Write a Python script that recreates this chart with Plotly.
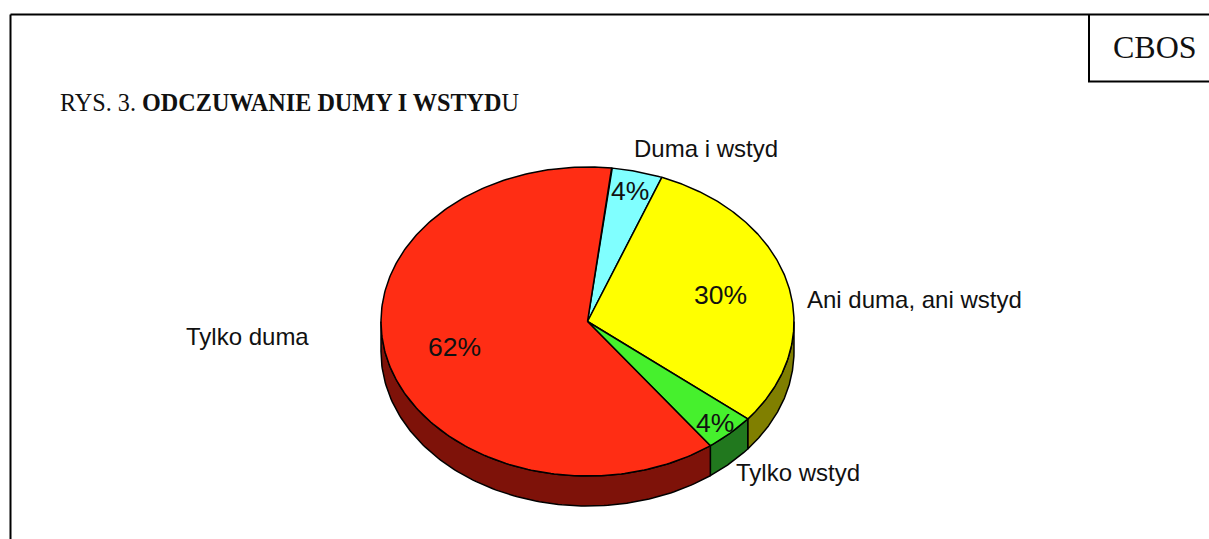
import numpy as np
import plotly.graph_objects as go

categories = ["Duma i wstyd", "Ani duma, ani wstyd", "Tylko wstyd", "Tylko duma"]
values = [4, 30, 4, 62]
top_colors = ["#80FFFF", "#FFFF00", "#46F02D", "#FF2D14"]
side_colors = ["#408080", "#807F00", "#21781E", "#7E1209"]

# pie geometry on a pixel-sized axis
CX, CY, RX, RY, DEPTH = 587.5, 321.5, 206.5, 154.5, 30
START_ANGLE = 6.7
W, H = 1209, 539

label_pos = [(705.5, 148), (914.5, 299), (798, 472), (247.5, 336)]
pct_pos = [(630, 191), (720, 295), (715, 423), (454, 347)]


def ell(t, dy=0.0):
    r = np.radians(t)
    return CX + RX * np.sin(r), CY - RY * np.cos(r) + dy


fig = go.Figure()
edges = START_ANGLE + np.cumsum([0] + values) * 3.6
common = dict(mode="lines", fill="toself", hoverinfo="skip", showlegend=False,
              line=dict(color="black", width=1.5))

# visible side wall: the front half of the ellipse, 90..270 degrees
for i, cat in enumerate(categories):
    a, b = max(edges[i], 90), min(edges[i + 1], 270)
    if b <= a:
        continue
    t = np.linspace(a, b, 120)
    x1, y1 = ell(t)
    x2, y2 = ell(t[::-1], DEPTH)
    fig.add_trace(go.Scatter(x=np.r_[x1, x2, x1[0]], y=np.r_[y1, y2, y1[0]],
                             fillcolor=side_colors[i], name=cat + " side", **common))

# top face
for i, cat in enumerate(categories):
    t = np.linspace(edges[i], edges[i + 1], 240)
    x, y = ell(t)
    fig.add_trace(go.Scatter(x=np.r_[CX, x, CX], y=np.r_[CY, y, CY],
                             fillcolor=top_colors[i], name=cat, **common))

SANS = "Liberation Sans, Arial, sans-serif"
SERIF = "Liberation Serif, Times New Roman, serif"


def note(x, y, text, size, family=SANS, anchor="center"):
    fig.add_annotation(x=x, y=y, xref="x", yref="y", text=text, showarrow=False,
                       xanchor=anchor, yanchor="middle",
                       font=dict(family=family, size=size, color="#111111"))


for i, cat in enumerate(categories):
    note(*label_pos[i], cat, 24)
    note(*pct_pos[i], f"{values[i]}%", 26.5)

note(58, 102, "RYS. 3. <b>ODCZUWANIE DUMY I WSTYD</b>U", 24.2, SERIF, "left")
note(1154.5, 47, "CBOS", 32, SERIF)

for x0, y0, x1, y1 in [(10.5, 14.5, W, 14.5), (10.5, 14.5, 10.5, H),
                       (1089, 14.5, 1089, 81.5), (1088, 81.5, W, 81.5)]:
    fig.add_shape(type="line", x0=x0, y0=y0, x1=x1, y1=y1, xref="x", yref="y",
                  line=dict(color="black", width=2))

fig.update_xaxes(range=[0, W], visible=False, fixedrange=True)
fig.update_yaxes(range=[H, 0], visible=False, fixedrange=True)
fig.update_layout(width=W, height=H, margin=dict(l=0, r=0, t=0, b=0),
                  paper_bgcolor="white", plot_bgcolor="white", showlegend=False)
fig.write_html("out.html", config={"displayModeBar": False},
               post_script="document.body.style.margin='0';")
